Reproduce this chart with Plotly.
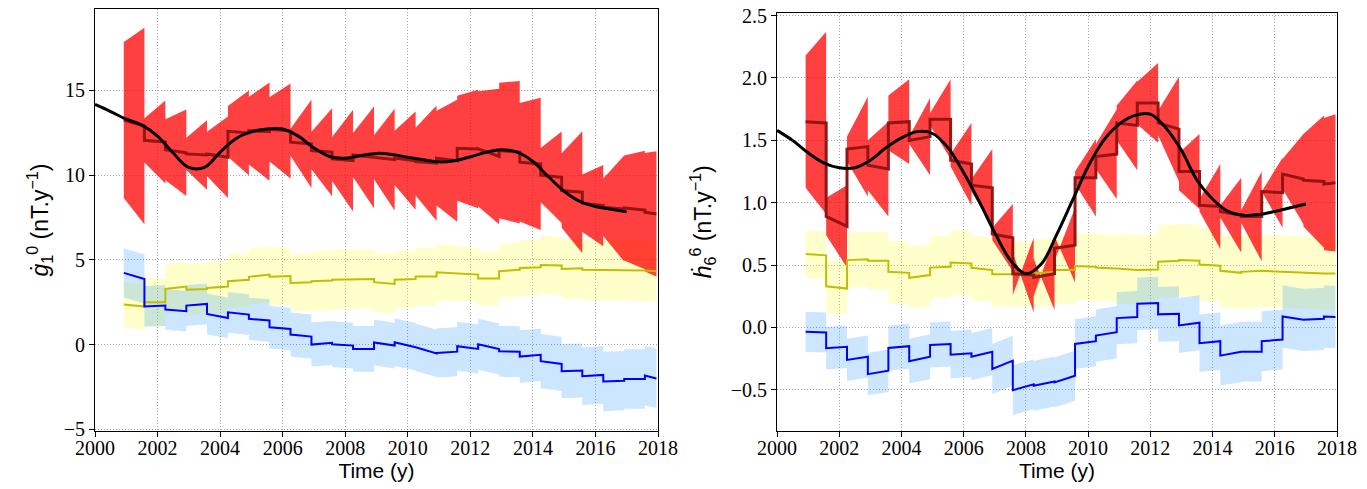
import plotly.graph_objects as go

# ---- segment start times (years) shared by both panels ----
seg_starts = [2000.92, 2001.58, 2002.25, 2002.92, 2003.58, 2004.25, 2004.92, 2005.58,
              2006.25, 2006.92, 2007.58, 2008.25, 2008.92, 2009.58, 2010.25, 2010.92,
              2011.58, 2012.25, 2012.92, 2013.58, 2014.25, 2014.92, 2015.58, 2016.25,
              2016.92, 2017.58]
seg_last_end = 2017.95

# ---- smooth (black) curve sample times ----
smooth_t = [2000 + 0.5 * i for i in range(35)]

# ---- Left panel: g10 ----
g_red_m0 = [13.25, 12.05, 11.5, 11.25, 11.25, 12.58, 12.62, 12.7, 11.94, 11.45, 10.95, 11.19, 11.05,
            11.01, 10.8, 11.0, 11.58, 11.55, 11.45, 10.76, 10.0, 9.09, 8.34, 8.1, 8.06, 7.81]
g_red_m1 = [12.9, 11.95, 11.32, 11.19, 11.05, 12.49, 12.56, 12.6, 11.84, 11.35, 10.85, 11.05, 10.91,
            10.85, 10.7, 10.85, 11.54, 11.1, 11.35, 10.66, 9.87, 8.99, 8.2, 8.0, 7.94, 7.71]
g_red_h0 = [4.6, 1.3, 1.8, 0.95, 1.3, 1.5, 2.0, 1.9, 0.8, 1.1, 1.3, 1.3, 1.3,
            1.6, 2.0, 2.8, 3.1, 3.4, 4.0, 3.5, 1.6, 2.2, 1.7, 1.7, 3.1, 3.5]
g_red_h1 = [5.8, 2.45, 2.55, 2.05, 2.4, 2.5, 2.9, 2.8, 2.6, 2.6, 3.0, 3.0, 3.0,
            2.9, 3.4, 3.6, 3.5, 4.0, 4.2, 3.9, 2.7, 3.6, 2.4, 3.1, 3.5, 3.7]

g_blue_m0 = [4.23, 2.25, 2.07, 2.3, 1.81, 1.9, 1.52, 1.02, 0.59, 0.0, 0.02, -0.26, 0.12,
             0.14, -0.16, -0.5, -0.1, 0.02, -0.4, -0.71, -0.98, -1.57, -1.87, -2.18, -2.03, -1.83]
g_blue_m1 = [3.87, 2.3, 1.97, 2.4, 1.57, 1.77, 1.42, 0.92, 0.47, 0.1, -0.06, -0.26, -0.06,
             -0.12, -0.52, -0.42, -0.26, -0.26, -0.42, -0.6, -1.14, -1.53, -1.79, -2.13, -2.03, -2.0]
g_blue_h = [1.45, 1.2, 1.2, 1.2, 1.2, 1.2, 1.25, 1.25, 1.3, 1.3, 1.35, 1.35, 1.35,
            1.4, 1.4, 1.45, 1.45, 1.5, 1.5, 1.55, 1.6, 1.6, 1.7, 1.75, 1.75, 1.75]

g_yel_m0 = [2.36, 2.5, 3.28, 3.24, 3.34, 3.74, 4.0, 4.0, 3.64, 3.74, 3.83, 3.87, 3.68,
            3.82, 4.01, 4.27, 4.17, 3.9, 4.33, 4.52, 4.7, 4.46, 4.42, 4.41, 4.41, 4.37]
g_yel_m1 = [2.24, 2.5, 3.42, 3.28, 3.42, 3.82, 4.13, 4.05, 3.68, 3.78, 3.85, 3.87, 3.58,
            3.87, 4.01, 4.21, 4.13, 3.9, 4.41, 4.56, 4.66, 4.5, 4.41, 4.41, 4.37, 4.33]
g_yel_h = [1.35, 1.4, 1.45, 1.5, 1.55, 1.6, 1.65, 1.7, 1.7, 1.75, 1.75, 1.75, 1.75,
           1.7, 1.7, 1.65, 1.6, 1.6, 1.6, 1.65, 1.7, 1.75, 1.8, 1.8, 1.8, 1.8]

g_smooth = [14.17, 13.75, 13.3, 12.95, 12.3, 11.3, 10.45, 10.45, 11.35, 12.15, 12.55, 12.72,
            12.72, 12.3, 11.6, 11.1, 11.0, 11.15, 11.28, 11.22, 11.05, 10.9, 10.78, 10.85,
            11.08, 11.35, 11.5, 11.35, 10.8, 9.9, 9.05, 8.45, 8.15, 7.98, 7.83]

# ---- Right panel: h66 ----
h_red_m0 = [1.65, 0.89, 1.43, 1.30, 1.64, 1.50, 1.67, 1.34, 1.14, 0.75, 0.43, 0.40, 0.634,
            1.2, 1.37, 1.64, 1.80, 1.64, 1.25, 0.98, 0.93, 0.89, 1.09, 1.23, 1.18, 1.15]
h_red_m1 = [1.64, 0.81, 1.45, 1.27, 1.65, 1.53, 1.67, 1.31, 1.12, 0.72, 0.42, 0.43, 0.66,
            1.2, 1.39, 1.62, 1.80, 1.59, 1.25, 0.97, 0.90, 0.89, 1.08, 1.19, 1.17, 1.16]
h_red_h0 = [0.53, 0.15, 0.1, 0.2, 0.22, 0.03, 0.05, 0.05, 0.05, 0.05, -0.17, -0.15, -0.1,
            0.05, 0.1, 0.14, 0.17, 0.1, 0.15, 0.05, 0.05, 0.05, 0.0, 0.12, 0.37, 0.53]
h_red_h1 = [0.73, 0.33, 0.4, 0.38, 0.34, 0.31, 0.32, 0.33, 0.31, 0.27, 0.30, 0.29, 0.3,
            0.31, 0.36, 0.36, 0.32, 0.42, 0.3, 0.34, 0.3, 0.36, 0.28, 0.36, 0.53, 0.55]

h_blue_m0 = [-0.035, -0.167, -0.26, -0.374, -0.164, -0.27, -0.14, -0.218, -0.234, -0.333, -0.503,
             -0.468, -0.441, -0.132, -0.065, 0.075, 0.19, 0.105, 0.016, -0.126, -0.226, -0.194,
             -0.11, 0.088, 0.061, 0.088]
h_blue_m1 = [-0.04, -0.155, -0.234, -0.347, -0.15, -0.234, -0.132, -0.207, -0.194, -0.266, -0.455,
             -0.433, -0.387, -0.11, -0.038, 0.083, 0.196, 0.11, 0.038, -0.11, -0.199, -0.194,
             -0.097, 0.061, 0.069, 0.083]
h_blue_h = [0.16, 0.17, 0.17, 0.17, 0.18, 0.18, 0.18, 0.19, 0.19, 0.2, 0.2, 0.2, 0.2,
            0.2, 0.21, 0.21, 0.21, 0.22, 0.22, 0.23, 0.24, 0.24, 0.24, 0.25, 0.25, 0.25]

h_yel_m0 = [0.589, 0.33, 0.54, 0.535, 0.446, 0.398, 0.48, 0.52, 0.478, 0.427, 0.427, 0.433, 0.46,
            0.492, 0.48, 0.473, 0.46, 0.527, 0.54, 0.505, 0.454, 0.446, 0.454, 0.446, 0.438, 0.433]
h_yel_m1 = [0.578, 0.312, 0.546, 0.535, 0.438, 0.42, 0.486, 0.513, 0.46, 0.427, 0.427, 0.446, 0.46,
            0.486, 0.473, 0.46, 0.465, 0.535, 0.535, 0.495, 0.438, 0.454, 0.446, 0.438, 0.433, 0.433]
h_yel_h = [0.19, 0.21, 0.22, 0.23, 0.25, 0.25, 0.25, 0.26, 0.26, 0.26, 0.26, 0.27, 0.27,
           0.27, 0.27, 0.28, 0.28, 0.29, 0.29, 0.29, 0.29, 0.29, 0.29, 0.29, 0.29, 0.29]

h_smooth = [1.58, 1.50, 1.40, 1.32, 1.28, 1.28, 1.34, 1.44, 1.52, 1.57, 1.555, 1.44, 1.24, 1.01,
            0.76, 0.54, 0.43, 0.51, 0.75, 1.02, 1.29, 1.50, 1.63, 1.70, 1.71, 1.60, 1.42, 1.18,
            1.03, 0.93, 0.90, 0.905, 0.93, 0.96, 0.99]

x_ticks = list(range(2000, 2019, 2))
g_ticks = [-5, 0, 5, 10, 15]
h_ticks = [-0.5, 0.0, 0.5, 1.0, 1.5, 2.0, 2.5]

RED_FILL = "rgba(255,0,0,0.75)"
YEL_FILL = "rgba(255,255,0,0.2)"
BLUE_FILL = "rgba(0,128,255,0.2)"


def seg_ends():
    return seg_starts[1:] + [seg_last_end]


def step_line(m0, m1):
    xs, ys = [], []
    for s, e, a, b in zip(seg_starts, seg_ends(), m0, m1):
        xs += [s, e]
        ys += [a, b]
    return xs, ys


def band(m0, m1, h0, h1):
    ux, uy, lx, ly = [], [], [], []
    for s, e, a, b, c, d in zip(seg_starts, seg_ends(), m0, m1, h0, h1):
        ux += [s, e]
        uy += [a + c, b + d]
        lx += [s, e]
        ly += [a - c, b - d]
    xs = ux + lx[::-1] + [ux[0]]
    ys = uy + ly[::-1] + [uy[0]]
    return xs, ys


fig = go.Figure()


def add_panel(xa, ya, red, blue, yel, smooth):
    (rm0, rm1, rh0, rh1) = red
    (bm0, bm1, bh) = blue
    (ym0, ym1, yh) = yel
    for (m0, m1, h0, h1, col) in [(ym0, ym1, yh, yh, YEL_FILL), (bm0, bm1, bh, bh, BLUE_FILL),
                                  (rm0, rm1, rh0, rh1, RED_FILL)]:
        x, y = band(m0, m1, h0, h1)
        fig.add_trace(go.Scatter(x=x, y=y, mode="lines", fill="toself", fillcolor=col,
                                 line=dict(width=0), hoverinfo="skip", showlegend=False,
                                 xaxis=xa, yaxis=ya))
    x, y = step_line(ym0, ym1)
    fig.add_trace(go.Scatter(x=x, y=y, mode="lines", line=dict(color="rgb(191,191,0)", width=2),
                             showlegend=False, xaxis=xa, yaxis=ya))
    x, y = step_line(bm0, bm1)
    fig.add_trace(go.Scatter(x=x, y=y, mode="lines", line=dict(color="rgb(0,0,255)", width=2),
                             showlegend=False, xaxis=xa, yaxis=ya))
    x, y = step_line(rm0, rm1)
    fig.add_trace(go.Scatter(x=x, y=y, mode="lines", line=dict(color="rgb(150,20,20)", width=3),
                             showlegend=False, xaxis=xa, yaxis=ya))
    fig.add_trace(go.Scatter(x=smooth_t, y=smooth, mode="lines",
                             line=dict(color="black", width=3, shape="spline", smoothing=1.0),
                             showlegend=False, xaxis=xa, yaxis=ya))


add_panel("x", "y", (g_red_m0, g_red_m1, g_red_h0, g_red_h1), (g_blue_m0, g_blue_m1, g_blue_h),
          (g_yel_m0, g_yel_m1, g_yel_h), g_smooth)
add_panel("x2", "y2", (h_red_m0, h_red_m1, h_red_h0, h_red_h1), (h_blue_m0, h_blue_m1, h_blue_h),
          (h_yel_m0, h_yel_m1, h_yel_h), h_smooth)

W, H = 1367, 489
common_axis = dict(showline=True, mirror=True, linecolor="black", linewidth=1,
                   ticks="outside", ticklen=5, tickwidth=1, tickcolor="black",
                   showgrid=True, gridcolor="#a8a8a8", griddash="1px,2px", gridwidth=1,
                   zeroline=False, automargin=False, ticklabeloverflow="allow",
                   tickfont=dict(family="Liberation Serif", size=20, color="black"))
title_font = dict(family="Liberation Sans", size=21, color="black")
ytitle_font = dict(family="Liberation Sans", size=23, color="black")

left_top, right_top, bottom = 9, 12.5, 431

fig.update_layout(
    width=W, height=H, margin=dict(l=0, r=0, t=0, b=0, autoexpand=False),
    paper_bgcolor="white", plot_bgcolor="white",
    xaxis=dict(domain=[95 / W, 658 / W], range=[2000, 2018], tickvals=x_ticks,
               ticklabelstandoff=-6,
               title=dict(text="Time (y)", font=title_font, standoff=2), anchor="y", **common_axis),
    yaxis=dict(domain=[1 - bottom / H, 1 - left_top / H], range=[-5.1, 19.8], tickvals=g_ticks,
               anchor="x",
               title=dict(text="<i>ġ</i><sub>1</sub><sup>0</sup> (nT.y<sup>−1</sup>)",
                          font=ytitle_font, standoff=8),
               **common_axis),
    xaxis2=dict(domain=[777 / W, 1337 / W], range=[2000, 2018], tickvals=x_ticks,
                ticklabelstandoff=-6,
                title=dict(text="Time (y)", font=title_font, standoff=2), anchor="y2", **common_axis),
    yaxis2=dict(domain=[1 - bottom / H, 1 - right_top / H], range=[-0.83, 2.525], tickvals=h_ticks,
                anchor="x2", tickformat=".1f",
                title=dict(text="<i>ḣ</i><sub>6</sub><sup>6</sup> (nT.y<sup>−1</sup>)",
                           font=ytitle_font, standoff=12),
                **common_axis),
)

fig.write_html("out.html", config={"displayModeBar": False},
               post_script="document.body.style.margin='0px';")
